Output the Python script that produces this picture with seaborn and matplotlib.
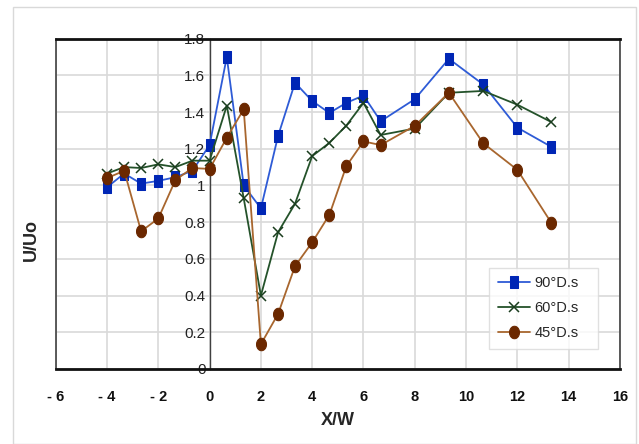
import numpy as np
import pandas as pd
import matplotlib
matplotlib.use("Agg")
import matplotlib.pyplot as plt
from matplotlib.path import Path
from matplotlib.patches import Rectangle
import seaborn as sns

# ---- data ----
x_90 = [-4, -3.33, -2.67, -2, -1.33, -0.67, 0, 0.67, 1.33, 2, 2.67, 3.33, 4, 4.67, 5.33, 6, 6.67, 8, 9.33, 10.67, 12, 13.33]
u_90 = [0.99, 1.065, 1.01, 1.025, 1.045, 1.08, 1.22, 1.70, 1.00, 0.875, 1.27, 1.56, 1.46, 1.395, 1.45, 1.49, 1.35, 1.47, 1.69, 1.55, 1.315, 1.21]

x_60 = [-4, -3.33, -2.67, -2, -1.33, -0.67, 0, 0.67, 1.33, 2, 2.67, 3.33, 4, 4.67, 5.33, 6, 6.67, 8, 9.33, 10.67, 12, 13.33]
u_60 = [1.065, 1.10, 1.095, 1.115, 1.10, 1.135, 1.135, 1.435, 0.93, 0.40, 0.745, 0.90, 1.16, 1.232, 1.326, 1.45, 1.275, 1.31, 1.505, 1.515, 1.44, 1.345]

x_45 = [-4, -3.33, -2.67, -2, -1.33, -0.67, 0, 0.67, 1.33, 2, 2.67, 3.33, 4, 4.67, 5.33, 6, 6.67, 8, 9.33, 10.67, 12, 13.33]
u_45 = [1.04, 1.08, 0.75, 0.82, 1.03, 1.095, 1.09, 1.26, 1.415, 0.135, 0.30, 0.56, 0.69, 0.84, 1.105, 1.24, 1.22, 1.325, 1.505, 1.23, 1.085, 0.795]

series_names = ["90°D.s", "60°D.s", "45°D.s"]
x_ticks = [-6, -4, -2, 0, 2, 4, 6, 8, 10, 12, 14, 16]
x_tick_labels = ["- 6", "- 4", "- 2", "0", "2", "4", "6", "8", "10", "12", "14", "16"]
y_ticks = [0, 0.2, 0.4, 0.6, 0.8, 1.0, 1.2, 1.4, 1.6, 1.8]
y_tick_labels = ["0", "0.2", "0.4", "0.6", "0.8", "1", "1.2", "1.4", "1.6", "1.8"]

sns.set_theme(style="white")
plt.rcParams["font.family"] = ["Liberation Sans", "DejaVu Sans"]
plt.rcParams["axes.unicode_minus"] = False

fig = plt.figure(figsize=(6.39, 4.44), dpi=100)
ax = fig.add_axes([0.0872, 0.169, 0.883, 0.744])

# outer chart border
fig.patches.append(Rectangle((13 / 639, 0.0), 623 / 639, 437 / 444, transform=fig.transFigure,
                             fill=False, edgecolor="#D9D9D9", linewidth=1.0))

# tall markers (the chart is horizontally squeezed)
sq = Path([(-0.36, -0.5), (0.36, -0.5), (0.36, 0.5), (-0.36, 0.5), (-0.36, -0.5)],
          [Path.MOVETO, Path.LINETO, Path.LINETO, Path.LINETO, Path.CLOSEPOLY])
t = np.linspace(0, 2 * np.pi, 40)
el = Path(np.column_stack([0.40 * np.cos(t), 0.5 * np.sin(t)]), closed=True)

sns.lineplot(x=x_90, y=u_90, ax=ax, sort=False, estimator=None, color="#2E5BD6", linewidth=1.3,
             marker=sq, markersize=8, markerfacecolor="#0026B5", markeredgecolor="#0026B5",
             label=series_names[0])
sns.lineplot(x=x_60, y=u_60, ax=ax, sort=False, estimator=None, color="#24522A", linewidth=1.3,
             marker="x", markersize=7.5, markeredgewidth=1.1, markeredgecolor="#1A3D1E",
             label=series_names[1])
sns.lineplot(x=x_45, y=u_45, ax=ax, sort=False, estimator=None, color="#A8662E", linewidth=1.3,
             marker=el, markersize=9, markerfacecolor="#6B2800", markeredgecolor="#6B2800",
             label=series_names[2])

ax.set_xlim(-6, 16)
ax.set_ylim(0, 1.8)
ax.set_xticks(x_ticks)
ax.set_xticklabels(x_tick_labels, fontweight="bold", fontsize=10.5)
ax.set_yticks(y_ticks)
ax.set_yticklabels(y_tick_labels, fontsize=11.5)
ax.grid(True, color="#D9D9D9", linewidth=1.2)
ax.set_axisbelow(True)

# y axis crosses at x = 0
ax.spines["left"].set_position(("data", 0))
ax.spines["left"].set_color("#404040")
ax.spines["left"].set_linewidth(1.0)
ax.spines["left"].set_zorder(1.5)
ax.axvline(-6, color="#404040", linewidth=1.2, clip_on=False, zorder=1.5)
ax.spines["right"].set_color("#404040")
ax.spines["right"].set_linewidth(1.2)
ax.spines["top"].set_color("#111111")
ax.spines["top"].set_linewidth(2.0)
ax.spines["bottom"].set_color("#111111")
ax.spines["bottom"].set_linewidth(2.0)
ax.tick_params(axis="y", length=0, pad=3, colors="#222222")
ax.tick_params(axis="x", length=0, pad=15, colors="#111111")

ax.set_xlabel("X/W", fontweight="bold", fontsize=13, labelpad=6)
ax.set_ylabel("U/Uo", fontweight="bold", fontsize=13)
ax.yaxis.set_label_coords(40 / 639, 0.46, transform=fig.transFigure)

leg = ax.legend(loc="lower left", bbox_to_anchor=(0.768, 0.0605, 0.193, 0.245), mode="expand",
                borderaxespad=0, frameon=True, fancybox=False, edgecolor="#D9D9D9", fontsize=10.5,
                handlelength=2.2, borderpad=0.6, labelspacing=0.75, handletextpad=0.3)
leg.get_frame().set_linewidth(1.0)

fig.savefig("out.png", dpi=100)
